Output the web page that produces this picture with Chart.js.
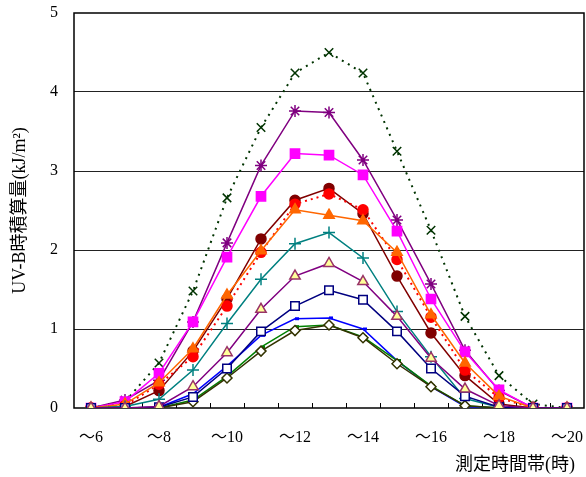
<!DOCTYPE html>
<html><head><meta charset="utf-8">
<script src="https://cdn.jsdelivr.net/npm/chart.js@4"></script>
<style>html,body{margin:0;padding:0;background:#fff}#wrap{width:586px;height:477px}</style>
</head><body>
<div id="wrap"><canvas id="cv" width="586" height="477"></canvas></div>
<script>
// 時間帯 6～20時
const hours=[6,7,8,9,10,11,12,13,14,15,16,17,18,19,20];
const yTicks=[0,1,2,3,4,5];
const sA=[0,0.08,0.57,1.48,2.66,3.55,4.24,4.50,4.24,3.25,2.25,1.16,0.41,0.05,0];
const sB=[0,0.10,0.35,1.09,2.09,3.07,3.76,3.74,3.14,2.38,1.57,0.73,0.22,0,0];
const sC=[0,0.08,0.44,1.09,1.91,2.68,3.22,3.20,2.95,2.24,1.38,0.71,0.23,0,0];
const sD=[0,0.02,0.22,0.72,1.38,2.14,2.63,2.78,2.46,1.67,0.95,0.41,0.05,0,0];
const sE=[0,0.03,0.30,0.65,1.29,1.97,2.58,2.71,2.51,1.88,1.15,0.48,0.13,0,0];
const sF=[0,0.05,0.32,0.75,1.43,1.99,2.51,2.44,2.37,1.97,1.18,0.57,0.15,0,0];
const sG=[0,0.02,0.11,0.48,1.07,1.63,2.08,2.22,1.90,1.22,0.65,0.12,0.01,0,0];
const sH=[0,0,0.02,0.27,0.70,1.25,1.67,1.83,1.60,1.16,0.63,0.24,0.03,0,0];
const sI=[0,0,0.01,0.14,0.50,0.97,1.29,1.49,1.37,0.97,0.50,0.15,0.01,0,0];
const sJ=[0,0,0.01,0.18,0.53,0.92,1.13,1.14,1.00,0.60,0.27,0.02,0,0,0];
const sK=[0,0,0,0.10,0.40,0.77,1.03,1.05,0.90,0.60,0.28,0.03,0,0,0];
const sL=[0,0,0,0.08,0.38,0.72,0.98,1.05,0.89,0.56,0.27,0.03,0,0,0];

const SERIF="'Liberation Serif','Noto Sans CJK JP',serif";

function ds(data,color,style,opt){
  return Object.assign({
    data:data,borderColor:color,backgroundColor:color,
    pointStyle:style,pointBorderColor:color,pointBackgroundColor:color,
    borderWidth:1.5,pointRadius:5,pointBorderWidth:1.5,tension:0,fill:false
  },opt||{});
}

const datasets=[
  ds(sH,'#800080','triangle',{pointBackgroundColor:'#ffff99',pointBorderColor:'#993366',pointRadius:6,order:1}),
  ds(sI,'#000080','rect',{pointBackgroundColor:'#ffffff',pointRadius:6,order:2}),
  ds(sL,'#333300','rectRot',{pointBackgroundColor:'#ffffff',pointRadius:5,order:3}),
  ds(sK,'#008000','dash',{pointRadius:4,pointBorderWidth:3,order:4}),
  ds(sJ,'#0000ff','dash',{pointRadius:4,pointBorderWidth:3,order:5}),
  ds(sG,'#008080','cross',{pointRadius:6,order:6}),
  ds(sF,'#ff6600','triangle',{pointRadius:6,order:7}),
  ds(sE,'#ff0000','circle',{borderDash:[2,4],borderWidth:2,order:8}),
  ds(sD,'#800000','circle',{order:9}),
  ds(sC,'#ff00ff','rect',{pointRadius:6.5,order:10}),
  ds(sB,'#800080','star',{pointRadius:6,order:11}),
  ds(sA,'#003300','crossRot',{borderDash:[2,5],borderWidth:2,pointRadius:6,order:12})
];

// 枠線と内向き目盛り
const frame={
  id:'frame',
  beforeDatasetsDraw:function(chart){
    const a=chart.chartArea,c=chart.ctx,x=chart.scales.x;
    c.save();
    c.strokeStyle='#000';c.lineWidth=1.5;
    c.strokeRect(a.left,a.top,a.right-a.left,a.bottom-a.top);
    c.lineWidth=1;c.beginPath();
    const half=(x.getPixelForValue(1)-x.getPixelForValue(0))/2;
    for(let i=0;i<hours.length-1;i++){
      const px=Math.round(x.getPixelForValue(i)+half)+0.5;
      c.moveTo(px,a.bottom);c.lineTo(px,a.bottom-5);
    }
    c.stroke();c.restore();
  }
};

new Chart(document.getElementById('cv'),{
  type:'line',
  data:{labels:hours.map(function(h){return h%2===0?'～'+h:'';}),datasets:datasets},
  options:{
    responsive:false,animation:false,
    layout:{autoPadding:false,padding:{left:0,right:2,top:13,bottom:0}},
    plugins:{legend:{display:false},tooltip:{enabled:false}},
    scales:{
      x:{
        offset:true,
        grid:{display:false,offset:true},
        border:{display:false},
        ticks:{autoSkip:false,maxRotation:0,padding:12,color:'#000',font:{family:SERIF,size:16}},
        title:{display:true,text:'測定時間帯(時)\u2002',align:'end',color:'#000',font:{family:SERIF,size:18},padding:{top:0,bottom:1}},
        afterFit:function(s){s.height=69;s.paddingLeft=0;s.paddingRight=0;}
      },
      y:{
        min:0,max:5,
        afterBuildTicks:function(s){s.ticks=yTicks.map(function(v){return {value:v};});},
        grid:{color:function(c){return c.tick.value===0||c.tick.value===5?'rgba(0,0,0,0)':'#222';},drawTicks:false,lineWidth:1},
        border:{display:false},
        ticks:{padding:16,color:'#000',font:{family:SERIF,size:16}},
        title:{display:true,text:'UV-B時積算量(kJ/m²)',color:'#000',font:{family:SERIF,size:18},padding:{top:9,bottom:0}},
        afterFit:function(s){s.width=74;s.paddingTop=0;s.paddingBottom=0;}
      }
    }
  },
  plugins:[frame]
});
</script>
</body></html>
